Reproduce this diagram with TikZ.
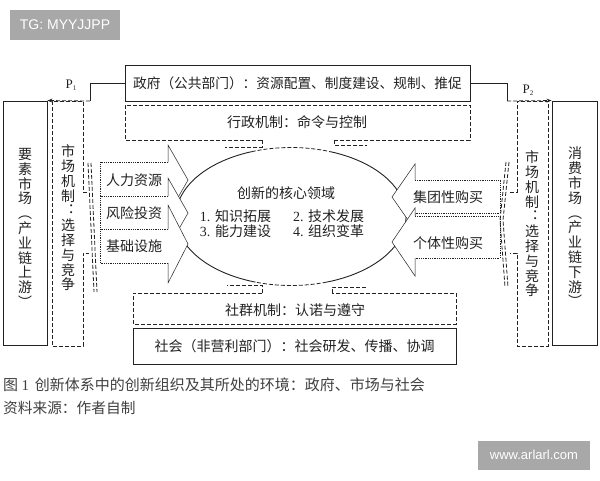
\documentclass[tikz,border=0pt]{standalone}
\usepackage{fontspec}
\setmainfont{Liberation Serif}
\newfontfamily\cjk{Noto Sans CJK SC}
\newfontfamily\wmfont{Liberation Sans}
\usepackage{xcolor}
\usetikzlibrary{arrows.meta, positioning}

\definecolor{ink}{HTML}{222222}
\definecolor{wmgray}{HTML}{A8A8A8}

\begin{document}
\begin{tikzpicture}[x=1pt, y=-1pt,
    lbl/.style={font=\cjk\fontsize{14}{16}\selectfont, text=ink, inner sep=0pt},
    vtext/.style={font=\cjk\fontsize{14}{14.8}\selectfont, text=ink, align=center, inner sep=0pt},
    solidbox/.style={draw=ink, line width=0.9pt},
    mech/.style={draw=ink, line width=0.8pt, dash pattern=on 4pt off 2pt},
    headline/.style={draw=ink, line width=0.5pt},
    bodyline/.style={draw=ink, line width=0.8pt, densely dotted},
    plabel/.style={text=ink, font=\fontsize{13}{15}\selectfont, inner sep=0pt},
    wm/.style={fill=wmgray, text=white, font=\wmfont\fontsize{14}{16}\selectfont, inner sep=0pt}]

\fill[white] (0,0) rectangle (600,480);
\useasboundingbox (0,0) rectangle (600,480);

% watermarks
\node[wm, minimum width=110, minimum height=30] (tag) at (65,25) {TG: MYYJJPP};
\node[wm, font=\wmfont\fontsize{13}{15}\selectfont, minimum width=112, minimum height=29] (site) at (534,455) {www.arlarl.com};

% government and society
\node[solidbox, lbl, font=\cjk\fontsize{13.7}{16}\selectfont, minimum width=345, minimum height=36] (gov) at (297.5,83) {政府（公共部门）：资源配置、制度建设、规制、推促};
\node[solidbox, lbl, minimum width=323, minimum height=36] (soc) at (294.5,346) {社会（非营利部门）：社会研发、传播、协调};

% markets
\node[solidbox, minimum width=44, minimum height=244] (upmkt) at (25,223) {};
\node[vtext] (uptext) at (25,228) {要\\素\\市\\场\\︵\\产\\业\\链\\上\\游\\︶};
\node[solidbox, minimum width=45, minimum height=244] (downmkt) at (574.5,223) {};
\node[vtext] (downtext) at (575,227) {消\\费\\市\\场\\︵\\产\\业\\链\\下\\游\\︶};

% core of innovation
\coordinate (core) at (291,216.5);
\draw[solidbox] (core) ++(-70:115 and 69) arc[start angle=-70, end angle=72, x radius=115, y radius=69];
\draw[solidbox] (core) ++(108:115 and 69) arc[start angle=108, end angle=250, x radius=115, y radius=69];
\draw[mech] (core) ++(-110:115 and 69) arc[start angle=-110, end angle=-70, x radius=115, y radius=69];
\draw[mech] (core) ++(72:115 and 69) arc[start angle=72, end angle=108, x radius=115, y radius=69];
\node[lbl] (coretitle) at (286,193) {创新的核心领域};
\node[lbl] (corea) at (282,216) {{\rmfamily 1. }知识拓展\hspace{22pt}{\rmfamily 2. }技术发展};
\node[lbl] (coreb) at (282,231) {{\rmfamily 3. }能力建设\hspace{22pt}{\rmfamily 4. }组织变革};

% inputs from the factor market
\fill[white] (100,162) -- (168,162) -- (168,145) -- (188,180) -- (168,215) -- (168,196) -- (100,196) -- cycle;
\draw[bodyline] (168,162) -- (100,162) -- (100,196) -- (168,196);
\draw[headline] (168,162) -- (168,145) -- (188,180) -- (168,215) -- (168,196);
\node[lbl] (hr) at (134,180) {人力资源};
\fill[white] (100,196) -- (168,196) -- (168,178) -- (188,213) -- (168,248) -- (168,229) -- (100,229) -- cycle;
\draw[bodyline] (168,196) -- (100,196) -- (100,229) -- (168,229);
\draw[headline] (168,196) -- (168,178) -- (188,213) -- (168,248) -- (168,229);
\node[lbl] (vc) at (134,213) {风险投资};
\fill[white] (100,229) -- (168,229) -- (168,205) -- (188,244) -- (168,283) -- (168,263) -- (100,263) -- cycle;
\draw[bodyline] (168,229) -- (100,229) -- (100,263) -- (168,263);
\draw[headline] (168,229) -- (168,205) -- (188,244) -- (168,283) -- (168,263);
\node[lbl] (infra) at (134,246) {基础设施};

% demand from the consumer market
\fill[white] (500,180) -- (415,180) -- (415,164) -- (392,197) -- (415,230) -- (415,213) -- (500,213) -- cycle;
\draw[bodyline] (415,180) -- (500,180) -- (500,213) -- (415,213);
\draw[headline] (415,180) -- (415,164) -- (392,197) -- (415,230) -- (415,213);
\node[lbl] (group) at (448,197) {集团性购买};
\fill[white] (500,216) -- (415,216) -- (415,208) -- (392,242) -- (415,276) -- (415,258) -- (500,258) -- cycle;
\draw[bodyline] (415,216) -- (500,216) -- (500,258) -- (415,258);
\draw[headline] (415,216) -- (415,208) -- (392,242) -- (415,276) -- (415,258);
\node[lbl] (single) at (448,243) {个体性购买};

% administrative mechanism
\coordinate (admL) at (262,140);
\coordinate (admR) at (334,140);
\draw[mech] (admL) -- (125,140) -- (125,105) -- (470,105) -- (470,140) -- (admR);
\draw[mech] (admL) -- ++(0,7) -- ++(-37,0);
\draw[mech] (admR) -- ++(0,5) -- ++(33,0);
\node[lbl] (admtext) at (297,122) {行政机制：命令与控制};

% community mechanism
\coordinate (socL) at (262,293);
\coordinate (socR) at (332,293);
\draw[mech] (socL) -- (133,293) -- (133,324) -- (456,324) -- (456,293) -- (socR);
\draw[mech] (socL) -- ++(0,-8) -- ++(-35,0);
\draw[mech] (socR) -- ++(0,-6) -- ++(35,0);
\node[lbl] (soctext) at (295,310) {社群机制：认诺与遵守};

% market mechanisms
\draw[mech] (87,192) -- (83,192) -- (83,101) -- (52,101) -- (52,346) -- (83,346) -- (83,253) -- (89,253);
\draw[mech] (88,163) -- (94,292);
\draw[mech] (91,163) -- (97,292);
\node[vtext] (lmech) at (68,218) {市\\场\\机\\制\\︓\\选\\择\\与\\竞\\争};
\draw[mech] (510,192) -- (517,192) -- (517,101) -- (548,101) -- (548,346) -- (517,346) -- (517,253) -- (510,253);
\draw[mech] (506,162) -- (500,220) -- (505,287);
\draw[mech] (509,162) -- (503,220) -- (508,287);
\node[vtext] (rmech) at (532,224) {市\\场\\机\\制\\︓\\选\\择\\与\\竞\\争};

% prices
\coordinate (p1bend) at (90,101);
\draw[solidbox] (gov.west) -| (p1bend);
\draw[mech, -{Stealth[length=5pt, width=4pt]}] (p1bend) -- (upmkt.north east);
\node[plabel] (p1) at (71,85) {P\raisebox{-2pt}{\fontsize{7}{7}\selectfont 1}};
\coordinate (p2bend) at (507,101);
\draw[solidbox] (gov.east) -| (p2bend);
\draw[mech, -{Stealth[length=5pt, width=4pt]}] (p2bend) -- (downmkt.north west);
\node[plabel] (p2) at (528,90) {P\raisebox{-2pt}{\fontsize{7}{7}\selectfont 2}};

% caption
\node[anchor=west, font=\cjk\fontsize{15}{17}\selectfont, text=black!75, inner sep=0pt] (cap) at (3,385) {图 {\rmfamily 1} \,创新体系中的创新组织及其所处的环境：政府、市场与社会};
\node[anchor=west, font=\cjk\fontsize{14.7}{16}\selectfont, text=black!75, inner sep=0pt] (src) at (3,408) {资料来源：作者自制};
\end{tikzpicture}
\end{document}
